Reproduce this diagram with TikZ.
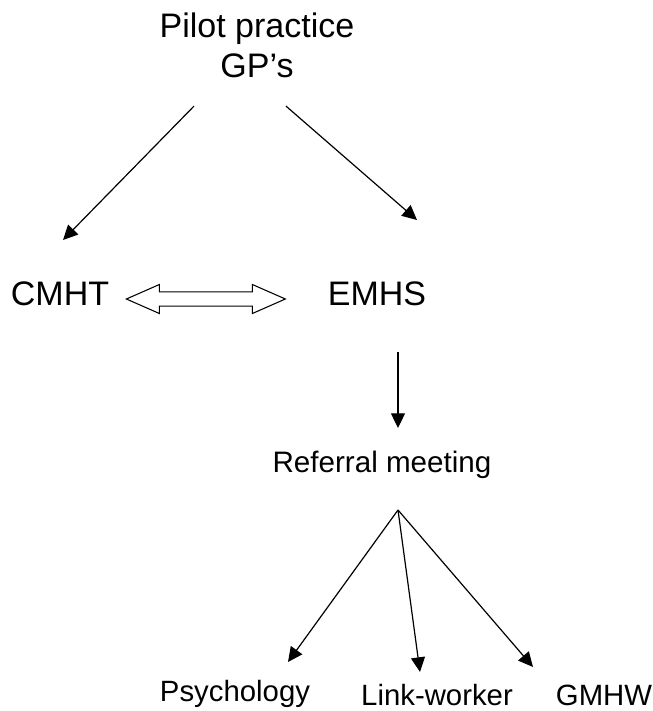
\documentclass[tikz,border=0pt]{standalone}
\usepackage{fontspec}
\setmainfont{Liberation Sans}
\usetikzlibrary{arrows.meta}

\begin{document}
\begin{tikzpicture}[x=0.75pt, y=-0.75pt,
    big/.style={inner sep=0pt, font=\fontsize{25.5pt}{30pt}\selectfont},
    mid/.style={inner sep=0pt, font=\fontsize{22.2pt}{26pt}\selectfont},
    small/.style={inner sep=0pt, font=\fontsize{22pt}{26pt}\selectfont},
    arr/.style={line width=0.9pt, -{Triangle[length=11pt, width=10.5pt]}}]
    \useasboundingbox (0, 0) rectangle (653, 711);

    \node[big, anchor=north, align=center] at (257, 12.6) (pilot) {Pilot practice\\GP’s};
    \node[big, anchor=base] at (60, 305)  (cmht)    {CMHT};
    \node[big, anchor=base] at (377, 305) (emhs)    {EMHS};

    \node[mid, anchor=base] at (382, 472) (referral) {Referral meeting};

    \node[small, anchor=base] at (235, 701) (psych) {Psychology};
    \node[small, anchor=base] at (437, 705) (link)  {Link-worker};
    \node[small, anchor=base] at (604, 705) (gmhw)  {GMHW};

    \draw[arr] ([shift={(-63, 28)}]pilot.south) -- ([shift={(3, -65)}]cmht.base);
    \draw[arr] ([shift={(29, 28)}]pilot.south) -- ([shift={(40, -85)}]emhs.base);

    % hollow double arrow between CMHT and EMHS
    \draw[line width=0.8pt] ([shift={(17, -6)}]cmht.base east) -- ++(33, -14.5) -- ++(0, 7.3)
        -- ++(93, 0) -- ++(0, -7.3) -- ++(33, 14.5) -- ++(-33, 14.5) -- ++(0, -7.3)
        -- ++(-93, 0) -- ++(0, 7.3) -- cycle;

    \draw[arr] ([shift={(21, 47)}]emhs.base) -- ([shift={(16, -44)}]referral.base);

    \draw[arr] ([shift={(16, 38)}]referral.base) -- ([shift={(53, -39)}]psych.base);
    \draw[arr] ([shift={(16, 38)}]referral.base) -- ([shift={(-17, -33)}]link.base);
    \draw[arr] ([shift={(16, 38)}]referral.base) -- ([shift={(-71, -38)}]gmhw.base);
\end{tikzpicture}
\end{document}
